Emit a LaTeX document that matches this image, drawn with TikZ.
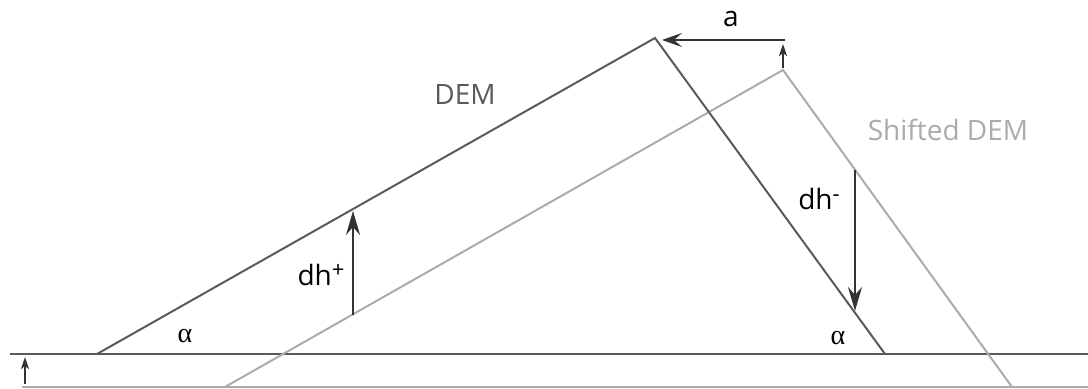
\documentclass[tikz,border=0pt]{standalone}
\usepackage{fontspec}
\setmainfont{Open Sans}
\newfontfamily\greekfont{Liberation Serif}
\usetikzlibrary{arrows.meta}
\definecolor{demgray}{HTML}{5A5A5A}
\definecolor{shgray}{HTML}{ABABAB}
\definecolor{arrgray}{HTML}{333333}
\newcommand{\sgn}[1]{\raisebox{0.55ex}{\fontsize{11}{12}\selectfont #1}}
\begin{document}
\begin{tikzpicture}[x=0.5pt,y=-0.5pt,>={Stealth[length=12pt,width=7pt,inset=4pt]},
  dem/.style={draw=demgray,line width=1pt},
  shifted/.style={draw=shgray,line width=1pt},
  shiftarrow/.style={->,draw=arrgray,line width=1.3pt},
  smallarrow/.style={->,draw=arrgray,line width=1pt,>={Stealth[length=6pt,width=4pt,inset=1.5pt]}},
  lbl/.style={font=\fontsize{14}{16}\selectfont,inner sep=1pt}]
\useasboundingbox (0,0) rectangle (1088,389);
% ground lines
\coordinate (baseA) at (10,354);
\coordinate (baseB) at (1088,354);
\coordinate (lowA) at (22,387);
\coordinate (lowB) at (1088,387);
\draw[dem] (baseA) -- (baseB);
\draw[shifted] (lowA) -- (lowB);
% DEM and shifted DEM
\coordinate (demL) at (97,354);
\coordinate (demT) at (655,38);
\coordinate (demR) at (885,354);
\coordinate (shL) at (225,387);
\coordinate (shT) at (783,70);
\coordinate (shR) at (1012,387);
\draw[shifted] (shL) -- (shT) -- (shR);
\draw[dem] (demL) -- (demT) -- (demR);
% shift vectors
\coordinate (aStart) at (785,40);
\coordinate (aEnd) at (662,40);
\coordinate (upStart) at (783,68);
\coordinate (upEnd) at (783,44);
\coordinate (lowUpA) at (25,384);
\coordinate (lowUpB) at (25,357);
\draw[shiftarrow,>={Stealth[length=10pt,width=7pt,inset=4pt]}] (aStart) -- (aEnd);
\draw[smallarrow] (upStart) -- (upEnd);
\draw[smallarrow] (lowUpA) -- (lowUpB);
% height differences
\coordinate (dhpA) at (353,315);
\coordinate (dhpB) at (353,211);
\coordinate (dhmA) at (855,170);
\coordinate (dhmB) at (855,311);
\draw[shiftarrow] (dhpA) -- (dhpB);
\draw[shiftarrow] (dhmA) -- (dhmB);
% labels
\node[lbl,text=demgray] (demlabel) at (465,95) {DEM};
\node[lbl,text=shgray] (shlabel) at (948,130) {Shifted DEM};
\node[lbl] (alabel) at (731,19) {a};
\node[lbl] (dhplabel) at (321,275) {dh\sgn{+}};
\node[lbl] (dhmlabel) at (819,199) {dh\sgn{-}};
\node[lbl] (alphaL) at (185,336) {\greekfont α};
\node[lbl] (alphaR) at (838,338) {\greekfont α};
\end{tikzpicture}
\end{document}
